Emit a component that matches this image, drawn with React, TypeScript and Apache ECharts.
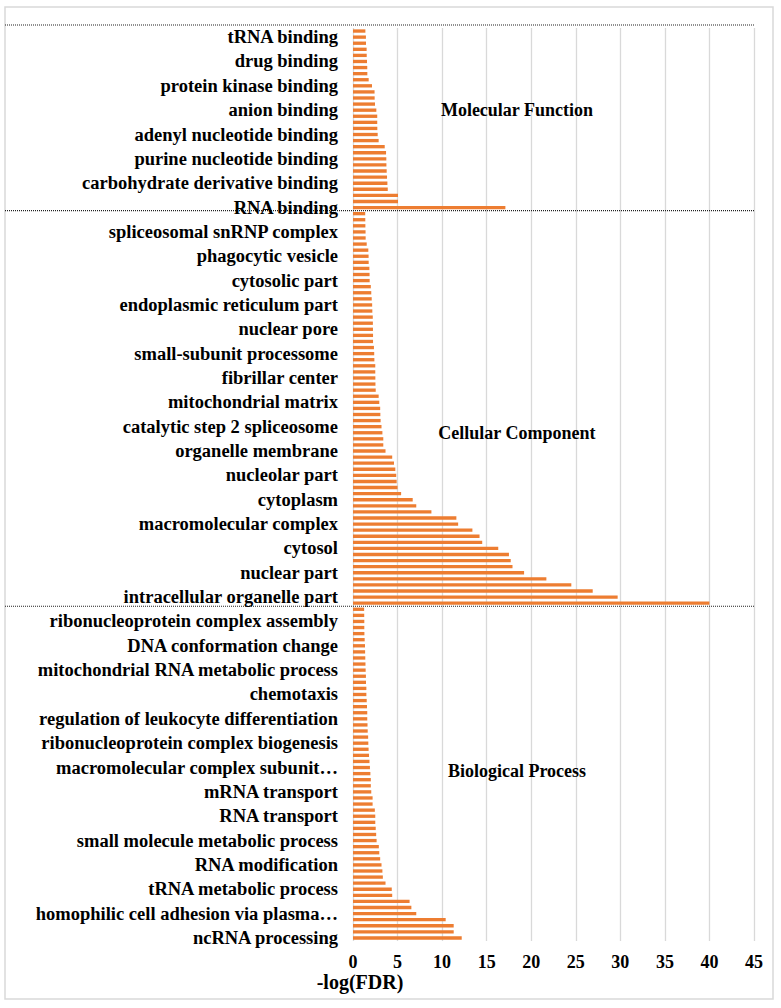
import React, { useEffect, useRef } from "react";
import * as echarts from "echarts";

// Visible category labels, bottom to top (one per 4 bars)
const bpLabels = [
  "ncRNA processing",
  "homophilic cell adhesion via plasma…",
  "tRNA metabolic process",
  "RNA modification",
  "small molecule metabolic process",
  "RNA transport",
  "mRNA transport",
  "macromolecular complex subunit…",
  "ribonucleoprotein complex biogenesis",
  "regulation of leukocyte differentiation",
  "chemotaxis",
  "mitochondrial RNA metabolic process",
  "DNA conformation change",
  "ribonucleoprotein complex assembly",
];
const ccLabels = [
  "intracellular organelle part",
  "nuclear part",
  "cytosol",
  "macromolecular complex",
  "cytoplasm",
  "nucleolar part",
  "organelle membrane",
  "catalytic step 2 spliceosome",
  "mitochondrial matrix",
  "fibrillar center",
  "small-subunit processome",
  "nuclear pore",
  "endoplasmic reticulum part",
  "cytosolic part",
  "phagocytic vesicle",
  "spliceosomal snRNP complex",
];
const mfLabels = [
  "RNA binding",
  "carbohydrate derivative binding",
  "purine nucleotide binding",
  "adenyl nucleotide binding",
  "anion binding",
  "protein kinase binding",
  "drug binding",
  "tRNA binding",
];

// -log(FDR) values, bottom to top
const bpValues = [
  12.2, 11.3, 11.3, 10.4, 7.1, 6.55, 6.35, 4.4, 4.35, 3.65,
  3.35, 3.3, 3.2, 3.05, 2.95, 2.9, 2.65, 2.6, 2.55, 2.5,
  2.5, 2.45, 2.2, 2.2, 2.05, 2.0, 2.0, 1.95, 1.9, 1.85,
  1.8, 1.75, 1.72, 1.7, 1.65, 1.63, 1.6, 1.6, 1.57, 1.54,
  1.5, 1.5, 1.46, 1.45, 1.42, 1.4, 1.38, 1.36, 1.35, 1.31,
  1.28, 1.27, 1.27, 1.26, 1.25,
];
const ccValues = [
  40.0, 29.7, 26.9, 24.5, 21.7, 19.2, 17.9, 17.7, 17.5, 16.3,
  14.5, 14.2, 13.4, 11.8, 11.6, 8.8, 7.1, 6.7, 5.4, 5.0,
  4.9, 4.85, 4.75, 4.6, 4.4, 3.65, 3.4, 3.4, 3.3, 3.2,
  3.1, 3.07, 3.05, 2.95, 2.88, 2.55, 2.52, 2.51, 2.5, 2.5,
  2.4, 2.38, 2.35, 2.25, 2.25, 2.24, 2.23, 2.22, 2.17, 2.15,
  2.1, 2.05, 2.0, 1.87, 1.86, 1.84, 1.76, 1.75, 1.72, 1.54,
  1.42, 1.41, 1.39, 1.38, 1.37,
];
const mfValues = [
  17.1, 5.05, 5.05, 3.9, 3.86, 3.82, 3.78, 3.75, 3.74, 3.71,
  3.56, 2.88, 2.77, 2.73, 2.72, 2.72, 2.62, 2.47, 2.43, 2.42,
  2.13, 1.76, 1.61, 1.6, 1.57, 1.54, 1.53, 1.46, 1.45, 1.39,
];

const sectionTitles = ["Biological Process", "Cellular Component", "Molecular Function"];
const axisTitle = "-log(FDR)";
const xMin = 0;
const xMax = 45;
const xInterval = 5;

const FONT = "'Liberation Serif', 'Times New Roman', serif";

export default function App() {
  const ref = useRef<HTMLDivElement>(null);

  useEffect(() => {
    if (!ref.current) return;
    const chart = echarts.init(ref.current, undefined, { renderer: "svg" });

    const values = [...bpValues, ...ccValues, ...mfValues];
    const shown = [...bpLabels, ...ccLabels, ...mfLabels];
    const categories = values.map((_, i) => (i % 4 === 0 ? shown[i / 4] ?? "" : ""));

    chart.setOption({
      animation: false,
      backgroundColor: "#ffffff",
      grid: { left: 353, right: 27, top: 28, bottom: 67, containLabel: false },
      xAxis: {
        type: "value",
        min: xMin,
        max: xMax,
        interval: xInterval,
        axisLine: { show: false },
        axisTick: { show: false },
        splitLine: { show: true, lineStyle: { color: "#D9D9D9", width: 1.3 } },
        axisLabel: {
          color: "#000",
          fontFamily: FONT,
          fontWeight: "bold",
          fontSize: 18,
          lineHeight: 18,
          margin: 12,
        },
      },
      yAxis: {
        type: "category",
        data: categories,
        axisLine: { show: false },
        axisTick: { show: false },
        splitLine: { show: false },
        axisLabel: {
          interval: 3,
          color: "#000",
          fontFamily: FONT,
          fontWeight: "bold",
          fontSize: 18.5,
          margin: 15,
        },
      },
      series: [
        {
          type: "bar",
          data: values,
          barCategoryGap: "45%",
          itemStyle: { color: "#ED7D31" },
        },
      ],
    });

    const px = (x: number, y: number) =>
      chart.convertToPixel({ gridIndex: 0 }, [x, y]) as number[];
    const yAt = (i: number) => px(0, i)[1];
    const mid = (a: number, b: number) => (yAt(a) + yAt(b)) / 2;
    const x0 = px(0, 0)[0];
    const xEnd = px(xMax, 0)[0];
    const nBp = bpValues.length;
    const nCc = ccValues.length;
    const nAll = values.length;
    const topBand = yAt(nAll - 1) - (yAt(nAll - 2) - yAt(nAll - 1)) / 2;

    const sepYs = [topBand - 3, mid(nBp + nCc - 1, nBp + nCc), mid(nBp - 1, nBp)];
    const titleX = px(18.4, 0)[0];
    const titleYs = [mid(27, 28), yAt(83), yAt(136)];

    const dotted = { stroke: "#222", lineWidth: 1.2, lineDash: [1, 1] };

    chart.setOption({
      graphic: [
        {
          type: "rect",
          shape: { x: 5, y: 7, width: 768, height: 992 },
          style: { fill: "none", stroke: "#D9D9D9", lineWidth: 1.5 },
          silent: true,
        },
        ...sepYs.map((y) => ({
          type: "line",
          shape: { x1: 5, y1: y, x2: xEnd, y2: y },
          style: dotted,
          silent: true,
        })),
        ...sectionTitles.map((t, k) => ({
          type: "text",
          x: titleX,
          y: titleYs[k],
          style: {
            text: t,
            fill: "#000",
            font: `bold 18px ${FONT}`,
            textAlign: "center",
            textVerticalAlign: "middle",
          },
          silent: true,
        })),
        {
          type: "text",
          x: x0 + 7,
          y: 982,
          style: {
            text: axisTitle,
            fill: "#000",
            font: `bold 20px ${FONT}`,
            textAlign: "center",
            textVerticalAlign: "middle",
          },
          silent: true,
        },
      ],
    });

    return () => chart.dispose();
  }, []);

  return (
    <div
      ref={ref}
      style={{ position: "fixed", left: 0, top: 0, width: 781, height: 1008, background: "#fff" }}
    />
  );
}
